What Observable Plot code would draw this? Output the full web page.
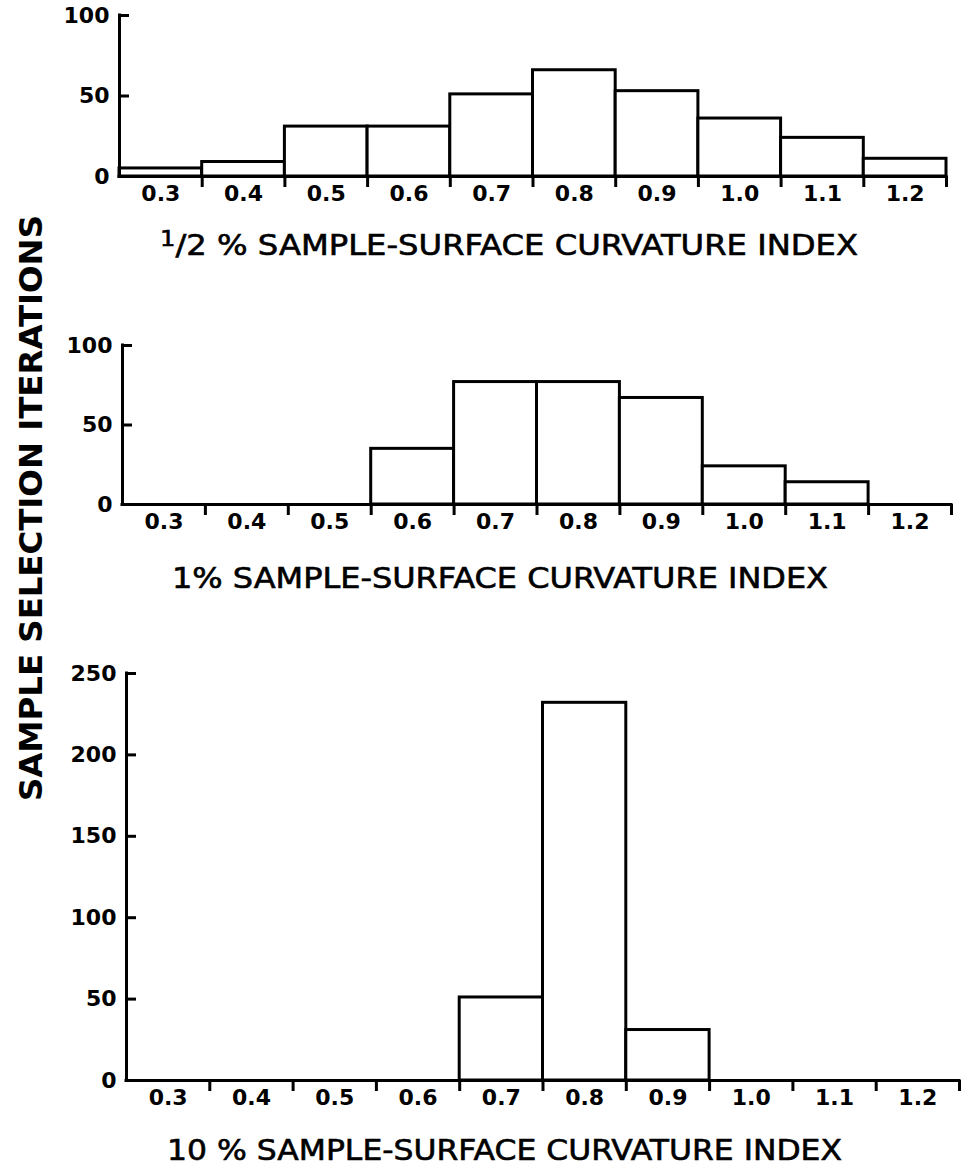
<!DOCTYPE html>
<html><head><meta charset="utf-8">
<script src="https://cdn.jsdelivr.net/npm/d3@7"></script>
<script src="https://cdn.jsdelivr.net/npm/@observablehq/plot@0.6"></script>
<style>
html,body{margin:0;padding:0;background:#fff;}
#fig{position:relative;width:962px;height:1167px;overflow:hidden;background:#fff;}
#fig .panel{position:absolute;left:0;}
#overlay{position:absolute;left:0;top:0;pointer-events:none;}
</style></head><body><div id="fig"></div>
<script>
// ---- data ----
const categories = [0.3, 0.4, 0.5, 0.6, 0.7, 0.8, 0.9, 1.0, 1.1, 1.2];
const tickLabels = ["0.3", "0.4", "0.5", "0.6", "0.7", "0.8", "0.9", "1.0", "1.1", "1.2"];
const binEdges = [0.25, 0.35, 0.45, 0.55, 0.65, 0.75, 0.85, 0.95, 1.05, 1.15, 1.25];
const halfPercent = [5, 9, 31, 31, 51, 66, 53, 36, 24, 11];
const onePercent = [0, 0, 0, 35, 77, 77, 67, 24, 14, 0];
const tenPercent = [0, 0, 0, 0, 51, 232, 31, 0, 0, 0];
const yTicksSmall = [0, 50, 100];
const yTicksLarge = [0, 50, 100, 150, 200, 250];
const titles = ["1/2 % SAMPLE-SURFACE CURVATURE INDEX", "1% SAMPLE-SURFACE CURVATURE INDEX", "10 % SAMPLE-SURFACE CURVATURE INDEX"];
const yTitle = "SAMPLE SELECTION ITERATIONS";

const FONT = '"DejaVu Sans", sans-serif';
const fig = document.getElementById("fig");
const W = 962;
const TICK_IN = 10;

function panel(values, yTicks, cfg) {
  const yMax = yTicks[yTicks.length - 1];
  const data = categories.map((c, i) => ({x1: binEdges[i], x2: binEdges[i + 1], v: values[i]})).filter(d => d.v > 0);
  const innerWidth = W - cfg.marginLeft - cfg.marginRight;
  const chart = Plot.plot({
    width: W, height: cfg.height,
    marginTop: cfg.marginTop, marginBottom: cfg.marginBottom,
    marginLeft: cfg.marginLeft, marginRight: cfg.marginRight,
    x: {domain: [binEdges[0], binEdges[binEdges.length - 1]]},
    y: {domain: [0, yMax]},
    style: {fontFamily: FONT, fontSize: "22px", fontWeight: "bold", color: "#000", background: "transparent"},
    marks: [
      Plot.rectY(data, {x1: "x1", x2: "x2", y: "v", fill: "white", stroke: "black", strokeWidth: 3, strokeLinejoin: "miter"}),
      Plot.ruleY([0], {stroke: "black", strokeWidth: 3, strokeLinecap: "square"}),
      Plot.ruleX([binEdges[0]], {stroke: "black", strokeWidth: 3, strokeLinecap: "square"}),
      // inward-pointing y ticks
      Plot.tickY(yTicks.filter(t => t > 0), {y: d => d, stroke: "black", strokeWidth: 3, insetRight: innerWidth - TICK_IN}),
      Plot.axisY({ticks: yTicks, tickSize: 0, tickPadding: 10, label: null, fontSize: 22}),
      Plot.axisX({ticks: binEdges.slice(1), tickSize: 11, tickFormat: () => "", strokeWidth: 3, label: null}),
      Plot.axisX({ticks: categories, tickSize: 0, tickPadding: 9, tickFormat: (d, i) => tickLabels[i], label: null, fontSize: 22})
    ]
  });
  chart.classList.add("panel");
  chart.style.top = cfg.top + "px";
  fig.appendChild(chart);
}

panel(halfPercent, yTicksSmall, {top: 0, height: 236, marginTop: 15, marginBottom: 60, marginLeft: 119, marginRight: 16});
panel(onePercent, yTicksSmall, {top: 320, height: 244, marginTop: 25, marginBottom: 60, marginLeft: 122, marginRight: 11});
panel(tenPercent, yTicksLarge, {top: 650, height: 490, marginTop: 23, marginBottom: 60, marginLeft: 126, marginRight: 3});

// ---- titles overlay ----
const ns = "http://www.w3.org/2000/svg";
const ov = document.createElementNS(ns, "svg");
ov.setAttribute("id", "overlay");
ov.setAttribute("width", 962);
ov.setAttribute("height", 1167);
ov.style.fontFamily = FONT;
fig.appendChild(ov);

function addText(str, attrs) {
  const t = document.createElementNS(ns, "text");
  for (const k in attrs) t.setAttribute(k, attrs[k]);
  t.textContent = str;
  ov.appendChild(t);
  return t;
}
const titleStyle = {"font-size": 28, stroke: "black", "stroke-width": 0.6, lengthAdjust: "spacingAndGlyphs"};

// first title with raised "1"
{
  const t = document.createElementNS(ns, "text");
  t.setAttribute("x", 160); t.setAttribute("y", 255);
  for (const k in titleStyle) t.setAttribute(k, titleStyle[k]);
  t.setAttribute("textLength", 698);
  const parts = titles[0].split("/");
  const s1 = document.createElementNS(ns, "tspan");
  s1.setAttribute("font-size", 21); s1.setAttribute("dy", -9);
  s1.textContent = parts[0];
  const s2 = document.createElementNS(ns, "tspan");
  s2.setAttribute("dy", 9);
  s2.textContent = "/" + parts[1];
  t.appendChild(s1); t.appendChild(s2);
  ov.appendChild(t);
}
addText(titles[1], {x: 172, y: 588, textLength: 656, ...titleStyle});
addText(titles[2], {x: 167, y: 1160, textLength: 675, ...titleStyle});
addText(yTitle, {x: 0, y: 0, "font-size": 32, "font-weight": "bold", textLength: 586, lengthAdjust: "spacingAndGlyphs",
  "text-anchor": "middle", transform: "translate(42,508) rotate(-90)"});
</script></body></html>
